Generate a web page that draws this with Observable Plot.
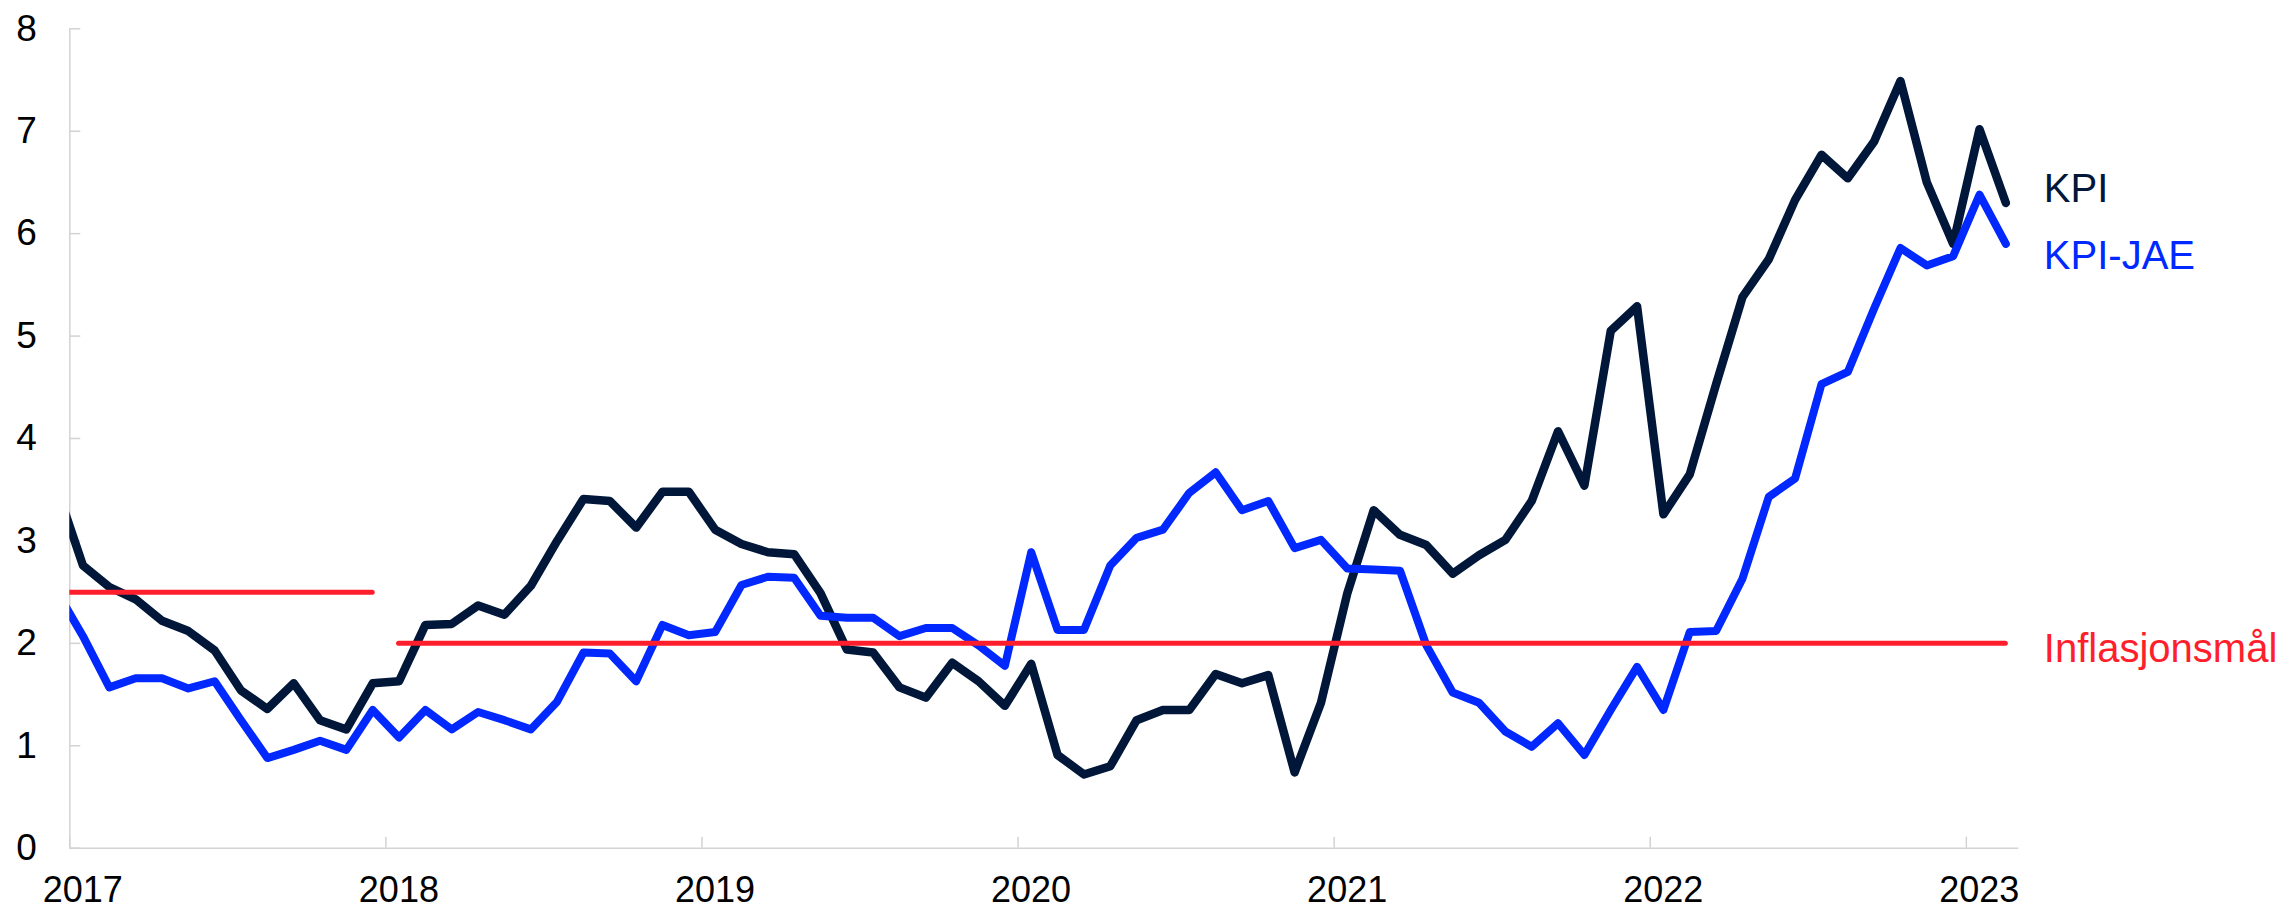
<!DOCTYPE html>
<html>
<head>
<meta charset="utf-8">
<script src="https://cdn.jsdelivr.net/npm/d3@7"></script>
<script src="https://cdn.jsdelivr.net/npm/@observablehq/plot@0.6"></script>
<style>
  html, body { margin: 0; padding: 0; background: #fff; }
  #chart svg { display: block; }
</style>
</head>
<body>
<div id="chart"></div>
<script>
// Monthly series, first value = December 2016 (clipped at the left edge), last = February 2023
const startYear = 2016;
const startMonth = 12;

const kpi = [
  3.52,
  2.76, 2.55, 2.43, 2.22, 2.12, 1.93, 1.54, 1.36, 1.61, 1.25, 1.16, 1.61,
  1.63, 2.18, 2.19, 2.37, 2.28, 2.56, 3.00, 3.41, 3.39, 3.13, 3.48, 3.48,
  3.11, 2.97, 2.89, 2.87, 2.49, 1.94, 1.91, 1.57, 1.47, 1.81, 1.63, 1.39,
  1.80, 0.91, 0.72, 0.80, 1.25, 1.35, 1.35, 1.70, 1.61, 1.69, 0.74, 1.42,
  2.49, 3.30, 3.06, 2.96, 2.68, 2.86, 3.01, 3.39, 4.07, 3.54, 5.05, 5.29,
  3.26, 3.65, 4.53, 5.38, 5.75, 6.33, 6.77, 6.54, 6.90, 7.49, 6.50, 5.90,
  7.02, 6.30
];

const kpiJae = [
  2.51,
  2.07, 1.57, 1.66, 1.66, 1.56, 1.63, 1.25, 0.88, 0.96, 1.05, 0.96, 1.35,
  1.08, 1.35, 1.16, 1.33, 1.25, 1.16, 1.43, 1.91, 1.90, 1.63, 2.18, 2.08,
  2.11, 2.57, 2.65, 2.64, 2.27, 2.25, 2.25, 2.07, 2.15, 2.15, 1.98, 1.78,
  2.89, 2.13, 2.13, 2.76, 3.03, 3.11, 3.47, 3.67, 3.30, 3.39, 2.93, 3.01,
  2.73, 2.72, 2.71, 1.98, 1.52, 1.42, 1.14, 0.99, 1.22, 0.91, 1.35, 1.77,
  1.35, 2.11, 2.12, 2.63, 3.43, 3.61, 4.53, 4.65, 5.27, 5.86, 5.69, 5.78,
  6.38, 5.90
];

// Inflation target regimes
const targetValues = [2.5, 2.0];
const targetFrom = ["2016-12", "2018-01"];
const targetTo = ["2017-12", "2023-02"];

const seriesNames = ["KPI", "KPI-JAE", "Inflasjonsmål"];
const yTicks = [0, 1, 2, 3, 4, 5, 6, 7, 8];
const xTicks = [2017, 2018, 2019, 2020, 2021, 2022, 2023];

// ---- build tables ----
const midMonth = i => startYear + (startMonth - 1 + i + 0.5) / 12;
const ymToPos = s => { const [y, m] = s.split("-").map(Number); return y + (m - 0.5) / 12; };

const kpiRows = kpi.map((v, i) => ({t: midMonth(i), v}));
const jaeRows = kpiJae.map((v, i) => ({t: midMonth(i), v}));
const targetRows = targetValues.map((v, i) => ({v, x1: ymToPos(targetFrom[i]), x2: ymToPos(targetTo[i])}));

const navy = "#00173a";
const blue = "#0028ff";
const red = "#ff1e2b";
const gray = "#d3d3d3";

const xStart = 2017, xEnd = 2023.166;
const lastT = midMonth(kpi.length - 1);

const labelLast = [kpi[kpi.length - 1], kpiJae[kpiJae.length - 1], targetValues[targetValues.length - 1]];
const labelColors = [navy, blue, red];
const labelDy = [-14, 12, 6];

const labelMarks = seriesNames.map((name, i) =>
  Plot.text([{t: lastT, v: labelLast[i]}], {
    x: "t", y: "v", text: () => name, dx: 38, dy: labelDy[i],
    textAnchor: "start", fill: labelColors[i], fontSize: 40
  })
);

const chart = Plot.plot({
  width: 2284,
  height: 910,
  marginLeft: 69.3,
  marginRight: 265.7,
  marginTop: 28.3,
  marginBottom: 62.3,
  x: {domain: [xStart, xEnd], axis: null, label: null},
  y: {domain: [0, 8], axis: null, label: null},
  style: {fontFamily: "'Liberation Sans', Arial, sans-serif", background: "#fff", color: "#000"},
  marks: [
    // axis lines
    Plot.ruleX([xStart], {y1: 0, y2: 8, stroke: gray, strokeWidth: 1.5}),
    Plot.ruleY([0], {x1: xStart, x2: xEnd, stroke: gray, strokeWidth: 1.5}),
    // inward tick marks
    Plot.ruleY(yTicks, {y: d => d, x1: xStart, x2: xStart + 11 / 316.07, stroke: gray, strokeWidth: 1.5}),
    Plot.ruleX(xTicks, {x: d => d, y1: 0, y2: 11 / 102.42, stroke: gray, strokeWidth: 1.5}),
    // tick labels
    Plot.axisY({ticks: yTicks, tickSize: 0, tickPadding: 33, fontSize: 37, tickFormat: d => String(d), fill: "#000", label: null}),
    Plot.axisX({ticks: xTicks, tickSize: 0, tickPadding: 28, fontSize: 36, dx: 13, tickFormat: d => String(d), fill: "#000", label: null}),
    // series
    Plot.line(kpiRows, {x: "t", y: "v", stroke: navy, strokeWidth: 8.5, strokeLinejoin: "round", strokeLinecap: "round", clip: true}),
    Plot.line(jaeRows, {x: "t", y: "v", stroke: blue, strokeWidth: 8, strokeLinejoin: "round", strokeLinecap: "round", clip: true}),
    Plot.ruleY(targetRows, {y: "v", x1: "x1", x2: "x2", stroke: red, strokeWidth: 5, strokeLinecap: "round", clip: true}),
    ...labelMarks
  ]
});

document.getElementById("chart").appendChild(chart);
</script>
</body>
</html>
